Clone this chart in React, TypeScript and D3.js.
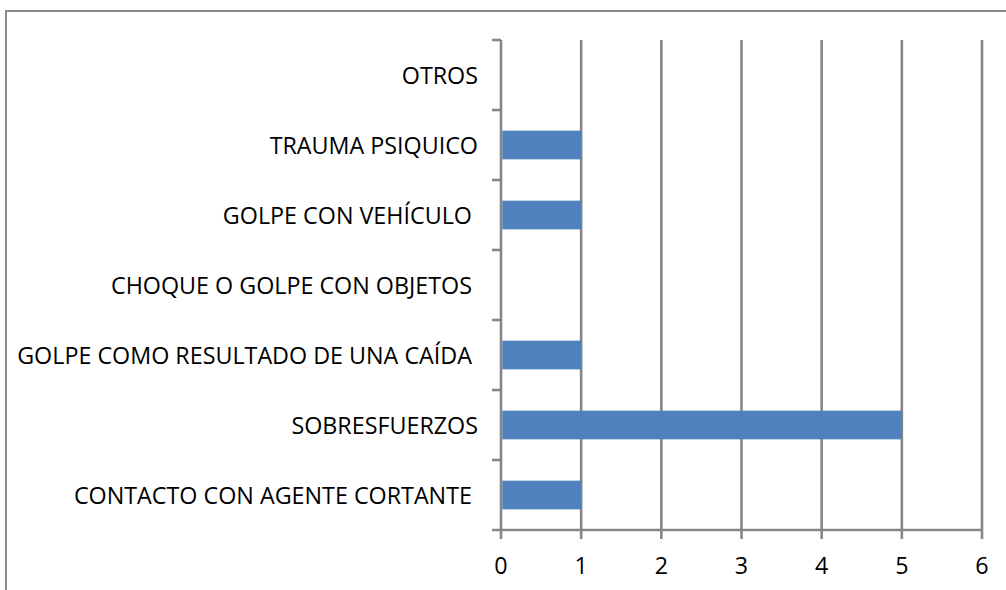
import React from 'react';
import * as d3 from 'd3';

const categories = [
  'CONTACTO CON AGENTE CORTANTE ',
  'SOBRESFUERZOS',
  'GOLPE COMO RESULTADO DE UNA CAÍDA ',
  'CHOQUE O GOLPE CON OBJETOS ',
  'GOLPE CON VEHÍCULO ',
  'TRAUMA PSIQUICO',
  'OTROS',
];
const values = [1, 5, 1, 0, 1, 1, 0];
const xTicks = [0, 1, 2, 3, 4, 5, 6];

const width = 1006;
const height = 590;
const margin = { top: 40, right: 24, bottom: 60, left: 501 };
const gridColor = '#878787';
const barColor = '#4F81BD';
const font = '"Open Sans", sans-serif';

export default function App() {
  const x = d3.scaleLinear()
    .domain([0, 6])
    .range([margin.left, 982]);

  // Bottom category first, like Excel's bar chart
  const y = d3.scaleBand<string>()
    .domain([...categories].reverse())
    .range([margin.top, height - margin.bottom]);

  const band = y.bandwidth();
  const barH = band * 0.41;
  const bottom = height - margin.bottom;

  return (
    <svg width={width} height={height} style={{ position: 'absolute', left: 0, top: 0, background: '#fff' }}>
      {/* chart area border (only top and left visible) */}
      <line x1={6} x2={width} y1={11} y2={11} stroke="#8c8c8c" strokeWidth={2} />
      <line x1={6} x2={6} y1={10} y2={height} stroke="#8c8c8c" strokeWidth={2} />

      {/* vertical gridlines + bottom ticks */}
      {xTicks.map(t => (
        <line key={'g' + t} x1={x(t)} x2={x(t)} y1={margin.top} y2={bottom + 9}
          stroke={gridColor} strokeWidth={2.6} />
      ))}

      {/* bars */}
      {values.map((v, i) => (
        v > 0 ? (
          <rect key={'b' + i}
            x={x(0) + 1.3}
            y={(y(categories[i]) || 0) + (band - barH) / 2}
            width={x(v) - x(0) - 1.3}
            height={barH}
            fill={barColor} />
        ) : null
      ))}

      {/* horizontal axis line */}
      <line x1={492} x2={x(6)} y1={bottom} y2={bottom} stroke={gridColor} strokeWidth={2.6} />

      {/* category ticks */}
      {categories.map(c => (
        <line key={'t' + c} x1={492} x2={x(0)} y1={y(c) || 0} y2={y(c) || 0}
          stroke={gridColor} strokeWidth={2.6} />
      ))}

      {/* category labels */}
      {categories.map(c => (
        <text key={'l' + c} x={478} y={(y(c) || 0) + band / 2 + 8.5}
          textAnchor="end" fontFamily={font} fontSize={23.3} fill="#000"
          style={{ whiteSpace: 'pre' }}>
          {c}
        </text>
      ))}

      {/* x tick labels */}
      {xTicks.map(t => (
        <text key={'x' + t} x={x(t)} y={573.5} textAnchor="middle"
          fontFamily={font} fontSize={23.3} fill="#000">
          {t}
        </text>
      ))}
    </svg>
  );
}
